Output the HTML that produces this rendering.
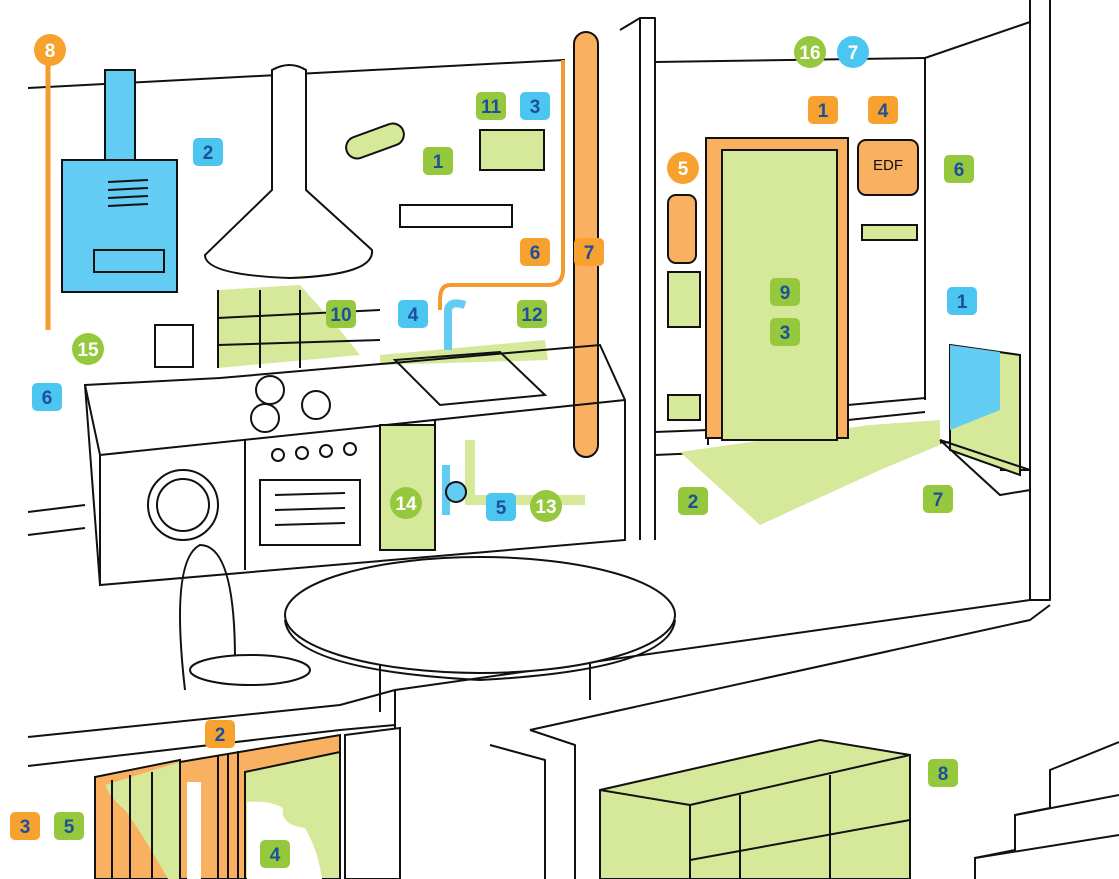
<!DOCTYPE html>
<html><head><meta charset="utf-8"><style>
html,body{margin:0;padding:0;background:#fff;width:1119px;height:879px;overflow:hidden}
svg{display:block}
text{font-family:"Liberation Sans",sans-serif;font-weight:bold;font-size:19px;text-anchor:middle}
.q text{fill:#1d4f9c}
.c text{fill:#fff}
</style></head><body>
<svg width="1119" height="879" viewBox="0 0 1119 879" xmlns="http://www.w3.org/2000/svg">
<g fill="none" stroke="#111" stroke-width="2" stroke-linejoin="round">
<line x1="28" y1="88" x2="565" y2="60"/>
<polyline points="620,30 640,18 655,18 655,540"/>
<line x1="640" y1="18" x2="640" y2="540"/>
<line x1="655" y1="62" x2="925" y2="58"/>
<line x1="925" y1="58" x2="1030" y2="22"/>
<line x1="925" y1="58" x2="925" y2="400"/>
<polyline points="1030,0 1030,600 1050,600 1050,0"/>
<line x1="28" y1="512" x2="85" y2="505"/>
<line x1="28" y1="535" x2="85" y2="528"/>
<line x1="655" y1="455" x2="1000" y2="440"/>
<polyline points="655,432 708,430 708,445"/>
<line x1="848" y1="405" x2="925" y2="398"/>
<line x1="848" y1="420" x2="925" y2="412"/>
<line x1="1030" y1="470" x2="1000" y2="470"/>
<polyline points="395,690 1030,600 1050,600"/>
<polyline points="28,737 340,705 395,690 395,730"/>
<polyline points="28,766 340,730 395,725"/>
<polyline points="530,730 1030,620 1050,605"/>
<polyline points="530,730 575,745 575,879"/>
<polyline points="490,745 545,760 545,879"/>
</g>
<polygon points="680,452 760,525 880,470 940,445 940,420 870,425" fill="#d6e89a"/>
<polygon points="218,290 300,285 340,330 360,355 218,368" fill="#d6e89a"/>
<polygon points="380,355 545,340 548,360 380,365" fill="#d6e89a"/>
<rect x="574" y="32" width="24" height="425" rx="12" fill="#f9b060" stroke="#111" stroke-width="2"/>
<path d="M563 60 V270 Q563 285 548 285 H450 Q440 285 440 300 V310" fill="none" stroke="#f39a30" stroke-width="4"/>
<path d="M48 55 V330" stroke="#f39a30" stroke-width="5"/>
<rect x="105" y="70" width="30" height="100" fill="#63ccf2" stroke="#111" stroke-width="2"/>
<rect x="62" y="160" width="115" height="132" fill="#63ccf2" stroke="#111" stroke-width="2"/>
<rect x="94" y="250" width="70" height="22" fill="none" stroke="#111" stroke-width="2"/>
<g stroke="#111" stroke-width="2"><line x1="108" y1="182" x2="148" y2="180"/><line x1="108" y1="190" x2="148" y2="188"/><line x1="108" y1="198" x2="148" y2="196"/><line x1="108" y1="206" x2="148" y2="204"/></g>
<path d="M272 70 Q290 60 306 70 V190 L372 250 Q375 275 290 278 Q205 275 205 255 L272 190Z" fill="#fff" stroke="#111" stroke-width="2"/>
<g stroke="#111" stroke-width="2" fill="none">
<rect x="155" y="325" width="38" height="42"/>
<line x1="218" y1="290" x2="218" y2="368"/><line x1="260" y1="290" x2="260" y2="368"/><line x1="300" y1="290" x2="300" y2="368"/>
<line x1="218" y1="318" x2="380" y2="310"/><line x1="218" y1="345" x2="380" y2="340"/>
<polygon points="85,385 220,378 600,345 625,400 625,540 100,585"/>
<polyline points="85,385 100,455 100,585"/>
<line x1="100" y1="455" x2="625" y2="400"/>
<line x1="245" y1="440" x2="245" y2="570"/>
<line x1="380" y1="425" x2="380" y2="550"/>
<line x1="435" y1="420" x2="435" y2="545"/>
<circle cx="183" cy="505" r="35"/><circle cx="183" cy="505" r="26"/>
<rect x="260" y="480" width="100" height="65"/>
<line x1="275" y1="495" x2="345" y2="493"/><line x1="275" y1="510" x2="345" y2="508"/><line x1="275" y1="525" x2="345" y2="523"/>
<circle cx="270" cy="390" r="14"/><circle cx="316" cy="405" r="14"/><circle cx="265" cy="418" r="14"/>
<circle cx="278" cy="455" r="6"/><circle cx="302" cy="453" r="6"/><circle cx="326" cy="451" r="6"/><circle cx="350" cy="449" r="6"/>
<polygon points="395,360 500,352 545,395 440,405"/>
</g>
<rect x="380" y="425" width="55" height="125" fill="#d6e89a" stroke="#111" stroke-width="2"/>
<path d="M470 440 V500 H585" stroke="#d6e89a" stroke-width="10" fill="none"/>
<path d="M446 465 v50" stroke="#63ccf2" stroke-width="8"/>
<circle cx="456" cy="492" r="10" fill="#63ccf2" stroke="#111" stroke-width="2"/>
<path d="M448 350 V310 Q450 300 465 305" stroke="#63ccf2" stroke-width="8" fill="none"/>
<g stroke="#111" stroke-width="2">
<rect x="345" y="130" width="60" height="22" rx="11" transform="rotate(-20 375 141)" fill="#d6e89a"/>
<rect x="480" y="130" width="64" height="40" fill="#d6e89a"/>
<rect x="400" y="205" width="112" height="22" fill="#fff"/>
</g>
<rect x="706" y="138" width="142" height="300" fill="#f9b060" stroke="#111" stroke-width="2"/>
<rect x="722" y="150" width="115" height="290" fill="#d6e89a" stroke="#111" stroke-width="2"/>
<rect x="668" y="195" width="28" height="68" rx="8" fill="#f9b060" stroke="#111" stroke-width="2"/>
<rect x="668" y="272" width="32" height="55" fill="#d6e89a" stroke="#111" stroke-width="2"/>
<rect x="668" y="395" width="32" height="25" fill="#d6e89a" stroke="#111" stroke-width="2"/>
<rect x="858" y="140" width="60" height="55" rx="8" fill="#f9b060" stroke="#111" stroke-width="2"/>
<text x="888" y="170" style="font-weight:normal;font-size:15px;fill:#111">EDF</text>
<rect x="862" y="225" width="55" height="15" fill="#d6e89a" stroke="#111" stroke-width="2"/>
<path d="M950 345 L1020 355 V475 L950 450Z" fill="#d6e89a" stroke="#111" stroke-width="2"/>
<path d="M950 345 L1000 352 V410 L950 430Z" fill="#63ccf2"/>
<polygon points="940,440 1000,495 1030,490 1030,470" fill="none" stroke="#111" stroke-width="2"/>
<path d="M185 690 Q170 560 200 545 Q235 545 235 660" fill="none" stroke="#111" stroke-width="2"/>
<ellipse cx="250" cy="670" rx="60" ry="15" fill="#fff" stroke="#111" stroke-width="2"/>
<line x1="380" y1="650" x2="380" y2="712" stroke="#111" stroke-width="2"/>
<line x1="590" y1="650" x2="590" y2="700" stroke="#111" stroke-width="2"/>
<ellipse cx="480" cy="615" rx="195" ry="58" fill="#fff" stroke="#111" stroke-width="2"/>
<path d="M285 620 Q290 670 480 680 Q670 670 675 620" fill="none" stroke="#111" stroke-width="2"/>
<!-- lower left shutters -->
<polygon points="95,777 180,760 180,879 95,879" fill="#f9b060" stroke="#111" stroke-width="2"/>
<path d="M105,785 L180,762 L180,879 L168,879 Q140,830 125,810 Q112,800 105,785Z" fill="#d6e89a"/>
<g stroke="#111" stroke-width="2"><line x1="112" y1="780" x2="112" y2="879"/><line x1="130" y1="775" x2="130" y2="879"/><line x1="152" y1="772" x2="152" y2="879"/></g>
<polygon points="180,762 340,735 340,879 180,879" fill="#f9b060" stroke="#111" stroke-width="2"/>
<rect x="187" y="782" width="14" height="97" fill="#fff"/>
<polygon points="245,772 340,752 340,879 245,879" fill="#d6e89a" stroke="#111" stroke-width="2"/>
<path d="M247,802 Q270,800 283,808 Q280,825 305,828 Q318,850 322,879 L247,879Z" fill="#fff"/>
<g stroke="#111" stroke-width="2"><line x1="218" y1="755" x2="218" y2="879"/><line x1="228" y1="753" x2="228" y2="879"/><line x1="238" y1="751" x2="238" y2="879"/></g>
<polygon points="345,735 400,728 400,879 345,879" fill="#fff" stroke="#111" stroke-width="2"/>
<polygon points="600,790 820,740 910,755 910,879 600,879" fill="#d6e89a" stroke="#111" stroke-width="2"/>
<g stroke="#111" stroke-width="2" fill="none">
<line x1="600" y1="790" x2="690" y2="805"/><line x1="690" y1="805" x2="690" y2="879"/><line x1="690" y1="805" x2="910" y2="755"/>
<line x1="740" y1="795" x2="740" y2="879"/><line x1="830" y1="775" x2="830" y2="879"/>
<line x1="690" y1="860" x2="910" y2="820"/>
<polyline points="975,879 975,858 1015,850 1015,815 1050,808 1050,770 1119,742"/>
<polyline points="975,858 1119,835"/><polyline points="1015,815 1119,795"/>
</g>
<g class="q">
<g fill="#f7a12e">
<rect x="808" y="96" width="30" height="28" rx="5"/><rect x="868" y="96" width="30" height="28" rx="5"/>
<rect x="520" y="238" width="30" height="28" rx="5"/><rect x="574" y="238" width="30" height="28" rx="5"/>
<rect x="205" y="720" width="30" height="28" rx="5"/><rect x="10" y="812" width="30" height="28" rx="5"/>
</g>
<g fill="#4ac6f0">
<rect x="193" y="138" width="30" height="28" rx="5"/><rect x="520" y="92" width="30" height="28" rx="5"/>
<rect x="398" y="300" width="30" height="28" rx="5"/><rect x="32" y="383" width="30" height="28" rx="5"/>
<rect x="947" y="287" width="30" height="28" rx="5"/><rect x="486" y="493" width="30" height="28" rx="5"/>
</g>
<g fill="#95c83d">
<rect x="423" y="147" width="30" height="28" rx="5"/><rect x="476" y="92" width="30" height="28" rx="5"/>
<rect x="326" y="300" width="30" height="28" rx="5"/><rect x="517" y="300" width="30" height="28" rx="5"/>
<rect x="770" y="278" width="30" height="28" rx="5"/><rect x="770" y="318" width="30" height="28" rx="5"/>
<rect x="944" y="155" width="30" height="28" rx="5"/><rect x="678" y="487" width="30" height="28" rx="5"/>
<rect x="923" y="485" width="30" height="28" rx="5"/><rect x="928" y="759" width="30" height="28" rx="5"/>
<rect x="54" y="812" width="30" height="28" rx="5"/><rect x="260" y="840" width="30" height="28" rx="5"/>
</g>
<text x="823" y="117">1</text><text x="883" y="117">4</text><text x="535" y="259">6</text><text x="589" y="259">7</text>
<text x="220" y="741">2</text><text x="25" y="833">3</text>
<text x="208" y="159">2</text><text x="535" y="113">3</text><text x="413" y="321">4</text><text x="47" y="404">6</text>
<text x="962" y="308">1</text><text x="501" y="514">5</text>
<text x="438" y="168">1</text><text x="491" y="113">11</text><text x="341" y="321">10</text><text x="532" y="321">12</text>
<text x="785" y="299">9</text><text x="785" y="339">3</text><text x="959" y="176">6</text><text x="693" y="508">2</text>
<text x="938" y="506">7</text><text x="943" y="780">8</text><text x="69" y="833">5</text><text x="275" y="861">4</text>
</g>
<g class="c">
<circle cx="50" cy="50" r="16" fill="#f7a12e"/><circle cx="683" cy="168" r="16" fill="#f7a12e"/>
<circle cx="853" cy="52" r="16" fill="#4ac6f0"/>
<circle cx="88" cy="349" r="16" fill="#95c83d"/><circle cx="406" cy="503" r="16" fill="#95c83d"/>
<circle cx="546" cy="506" r="16" fill="#95c83d"/><circle cx="810" cy="52" r="16" fill="#95c83d"/>
<text x="50" y="57">8</text><text x="683" y="175">5</text><text x="853" y="59">7</text>
<text x="88" y="356">15</text><text x="406" y="510">14</text><text x="546" y="513">13</text><text x="810" y="59">16</text>
</g>
</svg>
</body></html>
